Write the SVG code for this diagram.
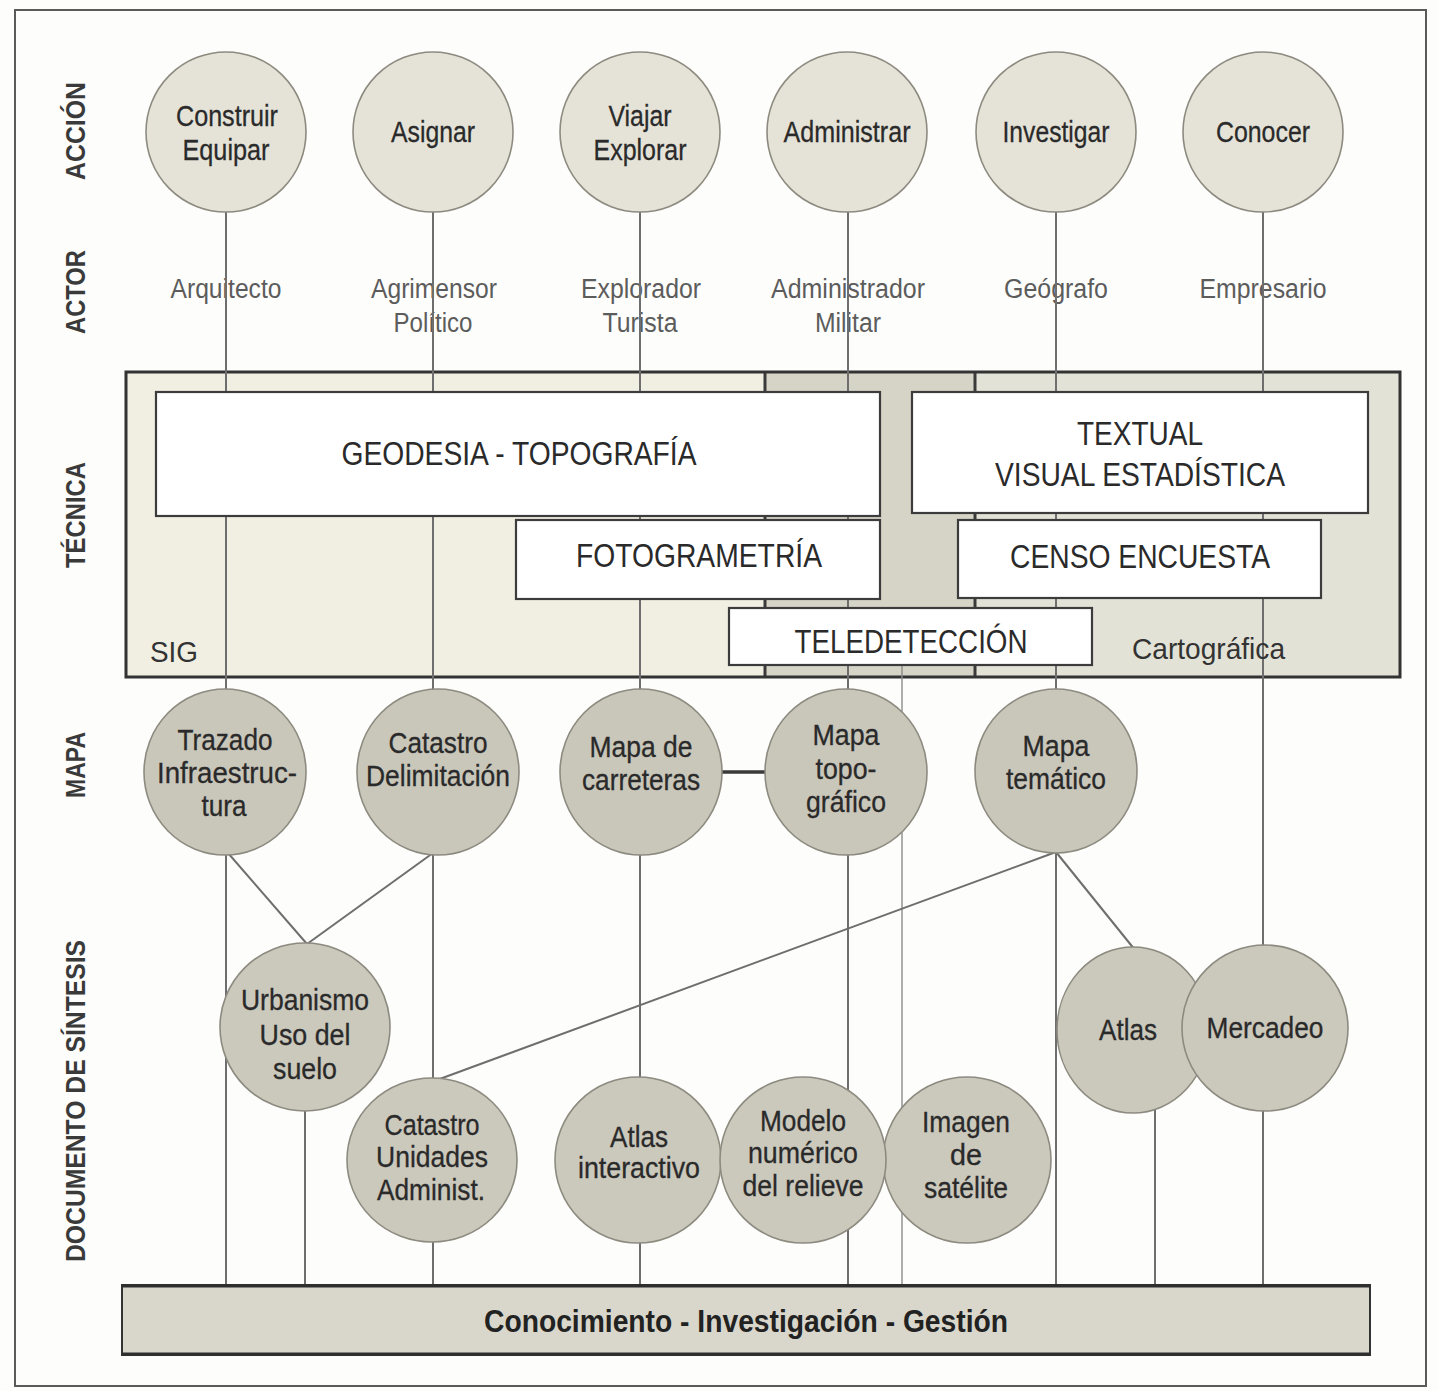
<svg xmlns="http://www.w3.org/2000/svg" width="1438" height="1391" viewBox="0 0 1438 1391">
  <defs>
    <style>
      text { font-family: "Liberation Sans", Arial, sans-serif; text-anchor: middle; }
      .row { font-size: 28px; font-weight: bold; fill: #3a3a3a; }
      .lbl { font-size: 30px; fill: #2a2a2a; stroke: #2a2a2a; stroke-width: 0.3; }
      .actor { font-size: 27px; fill: #5c5c5c; }
      .box-t { font-size: 34px; fill: #2a2a2a; }
      .zone { font-size: 30px; fill: #333; text-anchor: start; }
      .act { fill: #e5e3d8; stroke: #8d8a80; stroke-width: 1.6; }
      .map { fill: #c9c6ba; stroke: #8d8a80; stroke-width: 1.6; }
      .doc { fill: #cbc8bc; stroke: #8d8a80; stroke-width: 1.6; }
      .box { fill: #ffffff; stroke: #3c3c3c; stroke-width: 2.2; }
      .link { stroke: #6e6e6e; stroke-width: 2; fill: none; }
      .thin { stroke: #8a8a8a; stroke-width: 1.4; fill: none; }
    </style>
  </defs>

  <!-- page -->
  <rect x="0" y="0" width="1438" height="1391" fill="#fdfdfb"/>
  <rect x="15" y="10" width="1411" height="1376" fill="none" stroke="#5a5a5a" stroke-width="2"/>

  <!-- row titles -->
  <g id="row-titles">
    <text class="row" transform="translate(85 131) rotate(-90)" textLength="98" lengthAdjust="spacingAndGlyphs">ACCIÓN</text>
    <text class="row" transform="translate(85 292) rotate(-90)" textLength="84" lengthAdjust="spacingAndGlyphs">ACTOR</text>
    <text class="row" transform="translate(85 515) rotate(-90)" textLength="106" lengthAdjust="spacingAndGlyphs">TÉCNICA</text>
    <text class="row" transform="translate(85 765) rotate(-90)" textLength="66" lengthAdjust="spacingAndGlyphs">MAPA</text>
    <text class="row" transform="translate(85 1101) rotate(-90)" textLength="322" lengthAdjust="spacingAndGlyphs">DOCUMENTO DE SÍNTESIS</text>
  </g>

  <!-- technique band background -->
  <g id="band">
    <rect x="126" y="372" width="639" height="305" fill="#f1efe2"/>
    <rect x="765" y="372" width="210" height="305" fill="#d6d4c7"/>
    <rect x="975" y="372" width="425" height="305" fill="#e3e2d6"/>
    <line x1="765" y1="372" x2="765" y2="677" stroke="#3a3a3a" stroke-width="3"/>
    <line x1="975" y1="372" x2="975" y2="677" stroke="#3a3a3a" stroke-width="3"/>
    <rect x="126" y="372" width="1274" height="305" fill="none" stroke="#333" stroke-width="3"/>
  </g>

  <!-- actors -->
  <g id="actors">
    <g id="actor-arquitecto"><text class="actor" x="226" y="298" textLength="111" lengthAdjust="spacingAndGlyphs">Arquitecto</text></g>
    <g id="actor-agrimensor"><text class="actor" x="434" y="298" textLength="126" lengthAdjust="spacingAndGlyphs">Agrimensor</text><text class="actor" x="433" y="332" textLength="79" lengthAdjust="spacingAndGlyphs">Político</text></g>
    <g id="actor-explorador"><text class="actor" x="641" y="298" textLength="120" lengthAdjust="spacingAndGlyphs">Explorador</text><text class="actor" x="640" y="332" textLength="75" lengthAdjust="spacingAndGlyphs">Turista</text></g>
    <g id="actor-administrador"><text class="actor" x="848" y="298" textLength="154" lengthAdjust="spacingAndGlyphs">Administrador</text><text class="actor" x="848" y="332" textLength="66" lengthAdjust="spacingAndGlyphs">Militar</text></g>
    <g id="actor-geografo"><text class="actor" x="1056" y="298" textLength="104" lengthAdjust="spacingAndGlyphs">Geógrafo</text></g>
    <g id="actor-empresario"><text class="actor" x="1263" y="298" textLength="127" lengthAdjust="spacingAndGlyphs">Empresario</text></g>
  </g>

  <!-- connectors -->
  <g id="connectors">
    <line class="link" x1="226" y1="212" x2="226" y2="1286"/>
    <line class="link" x1="433" y1="212" x2="433" y2="1286"/>
    <line class="link" x1="640" y1="212" x2="640" y2="1286"/>
    <line class="link" x1="848" y1="212" x2="848" y2="1286"/>
    <line class="link" x1="1056" y1="212" x2="1056" y2="1286"/>
    <line class="link" x1="1263" y1="212" x2="1263" y2="1286"/>
    <line class="thin" x1="902" y1="665" x2="902" y2="1286"/>
    <line class="link" x1="305" y1="1100" x2="305" y2="1286"/>
    <line class="link" x1="1155" y1="1100" x2="1155" y2="1286"/>
    <line class="link" x1="228" y1="853" x2="307" y2="944"/>
    <line class="link" x1="433" y1="853" x2="307" y2="944"/>
    <line class="link" x1="1056" y1="852" x2="437" y2="1080"/>
    <line class="link" x1="1056" y1="852" x2="1135" y2="950"/>
    <line x1="720" y1="772" x2="768" y2="772" stroke="#3a3a3a" stroke-width="3.5"/>
  </g>

  <!-- technique boxes -->
  <g id="geodesia">
    <rect class="box" x="156" y="392" width="724" height="124"/>
    <text class="box-t" x="519" y="465" textLength="355" lengthAdjust="spacingAndGlyphs">GEODESIA - TOPOGRAFÍA</text>
  </g>
  <g id="textual">
    <rect class="box" x="912" y="392" width="456" height="121"/>
    <text class="box-t" x="1140" y="445" textLength="126" lengthAdjust="spacingAndGlyphs">TEXTUAL</text>
    <text class="box-t" x="1140" y="486" textLength="290" lengthAdjust="spacingAndGlyphs">VISUAL ESTADÍSTICA</text>
  </g>
  <g id="fotogrametria">
    <rect class="box" x="516" y="520" width="364" height="79"/>
    <text class="box-t" x="699" y="567" textLength="246" lengthAdjust="spacingAndGlyphs">FOTOGRAMETRÍA</text>
  </g>
  <g id="censo">
    <rect class="box" x="958" y="520" width="363" height="78"/>
    <text class="box-t" x="1140" y="568" textLength="260" lengthAdjust="spacingAndGlyphs">CENSO ENCUESTA</text>
  </g>
  <g id="teledeteccion">
    <rect class="box" x="729" y="608" width="363" height="57"/>
    <text class="box-t" x="911" y="653" textLength="233" lengthAdjust="spacingAndGlyphs">TELEDETECCIÓN</text>
  </g>
  <g id="zone-labels">
    <text class="zone" x="150" y="662" textLength="48" lengthAdjust="spacingAndGlyphs">SIG</text>
    <text class="zone" x="1132" y="659" textLength="153" lengthAdjust="spacingAndGlyphs">Cartográfica</text>
  </g>

  <!-- action circles -->
  <g id="construir"><circle class="act" cx="226" cy="132" r="80"/><text class="lbl" x="227" y="126" textLength="102" lengthAdjust="spacingAndGlyphs">Construir</text><text class="lbl" x="226" y="160" textLength="87" lengthAdjust="spacingAndGlyphs">Equipar</text></g>
  <g id="asignar"><circle class="act" cx="433" cy="132" r="80"/><text class="lbl" x="433" y="142" textLength="84" lengthAdjust="spacingAndGlyphs">Asignar</text></g>
  <g id="viajar"><circle class="act" cx="640" cy="132" r="80"/><text class="lbl" x="640" y="126" textLength="63" lengthAdjust="spacingAndGlyphs">Viajar</text><text class="lbl" x="640" y="160" textLength="93" lengthAdjust="spacingAndGlyphs">Explorar</text></g>
  <g id="administrar"><circle class="act" cx="847" cy="132" r="80"/><text class="lbl" x="847" y="142" textLength="127" lengthAdjust="spacingAndGlyphs">Administrar</text></g>
  <g id="investigar"><circle class="act" cx="1056" cy="132" r="80"/><text class="lbl" x="1056" y="142" textLength="107" lengthAdjust="spacingAndGlyphs">Investigar</text></g>
  <g id="conocer"><circle class="act" cx="1263" cy="132" r="80"/><text class="lbl" x="1263" y="142" textLength="94" lengthAdjust="spacingAndGlyphs">Conocer</text></g>

  <!-- map circles -->
  <g id="trazado"><ellipse class="map" cx="225" cy="772" rx="81" ry="83"/><text class="lbl" x="225" y="750" textLength="95" lengthAdjust="spacingAndGlyphs">Trazado</text><text class="lbl" x="227" y="783" textLength="140" lengthAdjust="spacingAndGlyphs">Infraestruc-</text><text class="lbl" x="224" y="816" textLength="45" lengthAdjust="spacingAndGlyphs">tura</text></g>
  <g id="catastro-delim"><ellipse class="map" cx="438" cy="772" rx="81" ry="83"/><text class="lbl" x="438" y="753" textLength="99" lengthAdjust="spacingAndGlyphs">Catastro</text><text class="lbl" x="438" y="786" textLength="144" lengthAdjust="spacingAndGlyphs">Delimitación</text></g>
  <g id="carreteras"><ellipse class="map" cx="641" cy="772" rx="81" ry="83"/><text class="lbl" x="641" y="757" textLength="103" lengthAdjust="spacingAndGlyphs">Mapa de</text><text class="lbl" x="641" y="790" textLength="118" lengthAdjust="spacingAndGlyphs">carreteras</text></g>
  <g id="topografico"><ellipse class="map" cx="846" cy="772" rx="81" ry="83"/><text class="lbl" x="846" y="745" textLength="67" lengthAdjust="spacingAndGlyphs">Mapa</text><text class="lbl" x="846" y="779" textLength="61" lengthAdjust="spacingAndGlyphs">topo-</text><text class="lbl" x="846" y="812" textLength="80" lengthAdjust="spacingAndGlyphs">gráfico</text></g>
  <g id="tematico"><ellipse class="map" cx="1056" cy="771" rx="81" ry="82"/><text class="lbl" x="1056" y="756" textLength="67" lengthAdjust="spacingAndGlyphs">Mapa</text><text class="lbl" x="1056" y="789" textLength="100" lengthAdjust="spacingAndGlyphs">temático</text></g>

  <!-- synthesis documents -->
  <g id="urbanismo"><ellipse class="doc" cx="305" cy="1027" rx="85" ry="84"/><text class="lbl" x="305" y="1010" textLength="128" lengthAdjust="spacingAndGlyphs">Urbanismo</text><text class="lbl" x="305" y="1045" textLength="91" lengthAdjust="spacingAndGlyphs">Uso del</text><text class="lbl" x="305" y="1079" textLength="64" lengthAdjust="spacingAndGlyphs">suelo</text></g>
  <g id="catastro-unid"><ellipse class="doc" cx="432" cy="1160" rx="85" ry="82"/><text class="lbl" x="432" y="1135" textLength="95" lengthAdjust="spacingAndGlyphs">Catastro</text><text class="lbl" x="432" y="1167" textLength="112" lengthAdjust="spacingAndGlyphs">Unidades</text><text class="lbl" x="431" y="1200" textLength="108" lengthAdjust="spacingAndGlyphs">Administ.</text></g>
  <g id="atlas-interactivo"><ellipse class="doc" cx="638" cy="1160" rx="83" ry="83"/><text class="lbl" x="639" y="1147" textLength="58" lengthAdjust="spacingAndGlyphs">Atlas</text><text class="lbl" x="639" y="1178" textLength="122" lengthAdjust="spacingAndGlyphs">interactivo</text></g>
  <g id="imagen"><ellipse class="doc" cx="967" cy="1160" rx="84" ry="83"/><text class="lbl" x="966" y="1132" textLength="88" lengthAdjust="spacingAndGlyphs">Imagen</text><text class="lbl" x="966" y="1165" textLength="32" lengthAdjust="spacingAndGlyphs">de</text><text class="lbl" x="966" y="1198" textLength="84" lengthAdjust="spacingAndGlyphs">satélite</text></g>
  <g id="modelo"><ellipse class="doc" cx="803" cy="1160" rx="83" ry="83"/><text class="lbl" x="803" y="1131" textLength="86" lengthAdjust="spacingAndGlyphs">Modelo</text><text class="lbl" x="803" y="1163" textLength="110" lengthAdjust="spacingAndGlyphs">numérico</text><text class="lbl" x="803" y="1196" textLength="121" lengthAdjust="spacingAndGlyphs">del relieve</text></g>
  <g id="atlas"><ellipse class="doc" cx="1133" cy="1030" rx="76" ry="83"/><text class="lbl" x="1128" y="1040" textLength="58" lengthAdjust="spacingAndGlyphs">Atlas</text></g>
  <g id="mercadeo"><ellipse class="doc" cx="1265" cy="1028" rx="83" ry="83"/><text class="lbl" x="1265" y="1038" textLength="117" lengthAdjust="spacingAndGlyphs">Mercadeo</text></g>

  <!-- common base -->
  <g id="base">
    <rect x="122" y="1285" width="1248" height="70" fill="#d9d7cb" stroke="#333" stroke-width="2"/>
    <line x1="122" y1="1286" x2="1370" y2="1286" stroke="#2e2e2e" stroke-width="3"/>
    <line x1="122" y1="1354" x2="1370" y2="1354" stroke="#2e2e2e" stroke-width="3"/>
    <text x="746" y="1332" font-size="31" font-weight="bold" fill="#222" textLength="524" lengthAdjust="spacingAndGlyphs">Conocimiento - Investigación - Gestión</text>
  </g>
</svg>
